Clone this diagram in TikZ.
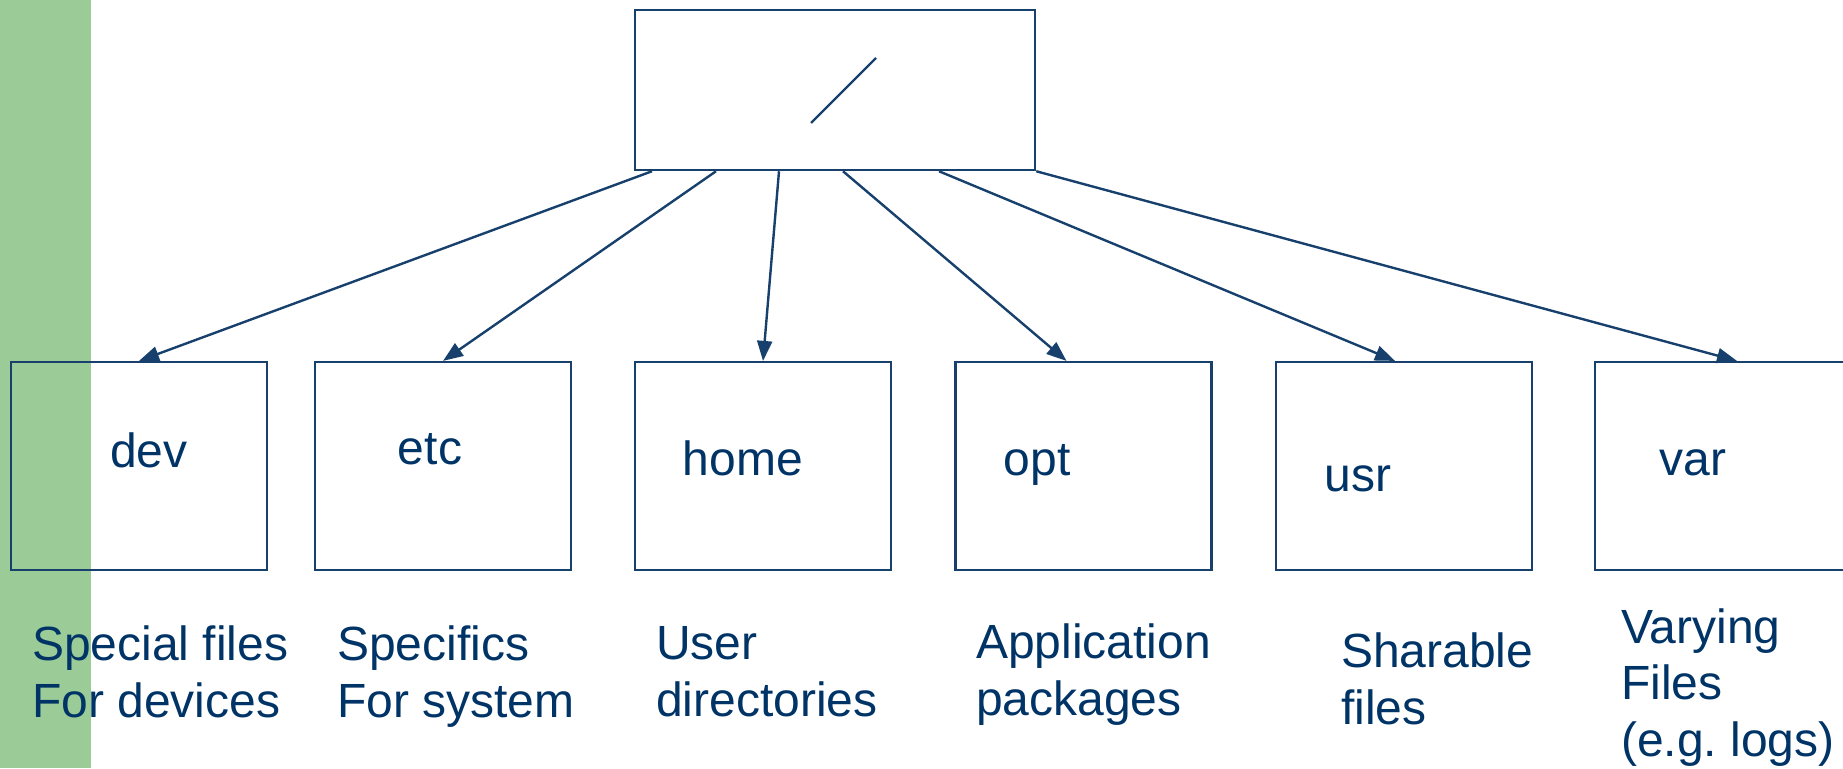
\documentclass[tikz,border=0pt]{standalone}
\usepackage{fontspec}
\setmainfont{Liberation Sans}
\usepackage{xcolor}
\definecolor{cNavy}{HTML}{003366}
\definecolor{cLine}{HTML}{17406D}
\definecolor{cBand}{HTML}{9BCB96}
\usetikzlibrary{positioning,arrows.meta}
\tikzset{
  node-root/.style={draw=cLine,line width=2.5pt,minimum width=400pt,
    minimum height=160pt,inner sep=0pt},
  node-dir/.style={draw=cLine,line width=2.2pt,minimum width=256pt,
    minimum height=208pt,inner sep=0pt},
  node-name/.style={text=cNavy,font=\fontsize{48}{56}\selectfont,
    anchor=base,inner sep=0pt},
  % base sits on the last line of a multi-line note
  node-note/.style={text=cNavy,font=\fontsize{48}{56.5}\selectfont,
    anchor=base west,align=left,inner sep=0pt},
  arrow/.style={-{Triangle[length=20pt,width=15pt]},line width=2.4pt,draw=cLine},
}

\begin{document}
\begin{tikzpicture}[x=1pt,y=-1pt]
  \useasboundingbox (0,0) rectangle (1843,768);
  % green strip on the left
  \fill[cBand] (0,0) rectangle (91,768);
  % root directory
  \node[node-root] (root) at (835,90) {};
  \draw[cLine,line width=2.4pt] ([shift={(-24pt,-33pt)}]root.center)
    -- ([shift={(41pt,32pt)}]root.center);
  % first level directories
  \node[node-dir] (dev)  at (139,466)    {};
  \node[node-dir] (etc)  at (443,466)    {};
  \node[node-dir] (home) at (763,466)    {};
  \node[node-dir] (opt)  at (1083.5,466) {};
  \node[node-dir] (usr)  at (1404,466)   {};
  \node[node-dir] (var)  at (1723,466)   {};
  \node[node-name] (dev-name)  at (149,467)  {dev};
  \node[node-name] (etc-name)  at (430,464)  {etc};
  \node[node-name] (home-name) at (743,475)  {home};
  \node[node-name] (opt-name)  at (1037,475) {opt};
  \node[node-name] (usr-name)  at (1358,491) {usr};
  \node[node-name] (var-name)  at (1693,475) {var};
  % links from /
  \draw[arrow] ([xshift=-183pt]root.south) -- (dev.north);
  \draw[arrow] ([xshift=-119pt]root.south) -- (etc.north);
  \draw[arrow] ([xshift=-56pt]root.south) -- (home.north);
  \draw[arrow] ([xshift=8pt]root.south) -- ([xshift=-17pt]opt.north);
  \draw[arrow] ([xshift=104pt]root.south) -- ([xshift=-9pt]usr.north);
  \draw[arrow] (root.south east) -- ([xshift=14pt]var.north);
  % what each directory holds
  \node[node-note] (dev-note)  at (32,717)   {Special files\\For devices};
  \node[node-note] (etc-note)  at (337,717)  {Specifics\\For system};
  \node[node-note] (home-note) at (656,716)  {User\\directories};
  \node[node-note] (opt-note)  at (976,715)  {Application\\packages};
  \node[node-note] (usr-note)  at (1341,724) {Sharable\\files};
  \node[node-note] (var-note)  at (1621,756) {Varying\\Files\\(e.g.\ logs)};
\end{tikzpicture}
\end{document}
